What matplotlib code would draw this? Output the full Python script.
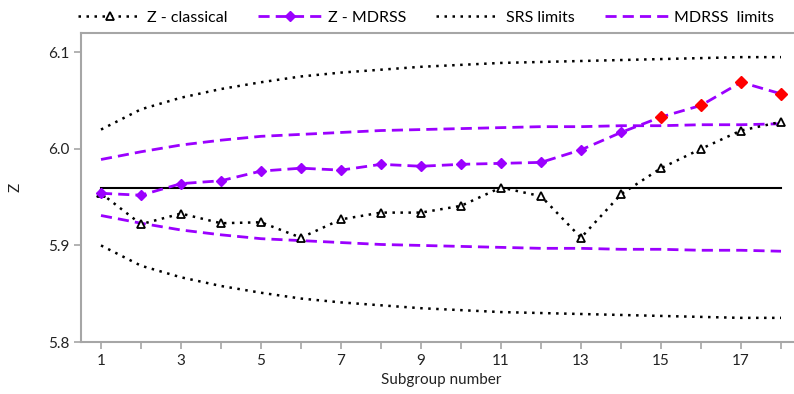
import matplotlib
matplotlib.use("Agg")
import matplotlib.pyplot as plt

# Daten
subgroup = list(range(1, 19))
z_classical = [5.954, 5.922, 5.933, 5.923, 5.924, 5.908, 5.927, 5.934, 5.934,
               5.941, 5.960, 5.951, 5.908, 5.953, 5.980, 6.000, 6.019, 6.028]
z_mdrss = [5.954, 5.952, 5.964, 5.967, 5.977, 5.980, 5.978, 5.984, 5.982,
           5.984, 5.985, 5.986, 5.999, 6.017, 6.033, 6.045, 6.069, 6.057]
srs_upper = [6.020, 6.041, 6.053, 6.062, 6.069, 6.075, 6.079, 6.082, 6.085,
             6.087, 6.089, 6.090, 6.091, 6.092, 6.093, 6.094, 6.095, 6.095]
srs_lower = [5.900, 5.879, 5.867, 5.858, 5.851, 5.845, 5.841, 5.838, 5.835,
             5.833, 5.831, 5.830, 5.829, 5.828, 5.827, 5.826, 5.825, 5.825]
mdrss_upper = [5.989, 5.997, 6.004, 6.009, 6.013, 6.015, 6.017, 6.019, 6.020,
               6.021, 6.022, 6.023, 6.023, 6.024, 6.024, 6.025, 6.025, 6.026]
mdrss_lower = [5.931, 5.923, 5.916, 5.911, 5.907, 5.905, 5.903, 5.901, 5.900,
               5.899, 5.898, 5.897, 5.897, 5.896, 5.896, 5.895, 5.895, 5.894]
center = 5.96
ausser_kontrolle = [15, 16, 17, 18]  # rote Punkte

lila = '#9B00FF'
grau = '#A6A6A6'

plt.rcParams['font.family'] = ['Lato', 'DejaVu Sans']

fig = plt.figure(figsize=(7.94, 3.94), dpi=100)
ax = fig.add_axes([81 / 794, 1 - 342 / 394, 720 / 794, 309 / 394])

# Grenzen
ax.plot(subgroup, srs_upper, color='black', linestyle=(0, (1, 2.2)), linewidth=1.8,
        label='SRS limits', zorder=2)
ax.plot(subgroup, srs_lower, color='black', linestyle=(0, (1, 2.2)), linewidth=1.8, zorder=2)
ax.plot(subgroup, mdrss_upper, color=lila, linestyle=(0, (4, 2.2)), linewidth=2,
        label='MDRSS  limits', zorder=2)
ax.plot(subgroup, mdrss_lower, color=lila, linestyle=(0, (4, 2.2)), linewidth=2, zorder=2)

# Mittellinie
ax.plot([subgroup[0], subgroup[-1]], [center, center], color='black', linewidth=1.5, zorder=3)

# Statistiken
ax.plot(subgroup, z_classical, color='black', linestyle=(0, (1, 2.2)), linewidth=1.8,
        marker='^', markersize=6, markerfacecolor='white', markeredgecolor='black',
        markeredgewidth=1.3, label='Z - classical', zorder=4)
ax.plot(subgroup, z_mdrss, color=lila, linestyle=(0, (4, 2.2)), linewidth=2,
        marker='D', markersize=5.5, markerfacecolor=lila, markeredgecolor=lila,
        label='Z - MDRSS', zorder=5)
rot_x = [s for s in subgroup if s in ausser_kontrolle]
rot_y = [z_mdrss[subgroup.index(s)] for s in rot_x]
ax.plot(rot_x, rot_y, linestyle='none', marker='D', markersize=6.5,
        color='#FF0000', zorder=6)

ax.set_xlim(0.5, 18.5)
ax.set_ylim(5.8, 6.12)
ax.set_yticks([5.8, 5.9, 6.0, 6.1])
ax.set_yticklabels(['5.8', '5.9', '6.0', '6.1'])
ax.set_xticks(subgroup)
ax.set_xticklabels([str(s) if s % 2 == 1 else '' for s in subgroup])
ax.tick_params(axis='both', colors=grau, labelcolor='#222222', labelsize=11,
               length=5, width=1.2)

for s in ['right']:
    ax.spines[s].set_visible(False)
for s in ['left', 'bottom', 'top']:
    ax.spines[s].set_color(grau)
    ax.spines[s].set_linewidth(1.5)

ax.set_xlabel('Subgroup number', fontsize=11, color='#222222', labelpad=4)
ax.set_ylabel('Z', fontsize=11, color='#222222', labelpad=18)

handles, labels = ax.get_legend_handles_labels()
order = [labels.index(l) for l in ['Z - classical', 'Z - MDRSS', 'SRS limits', 'MDRSS  limits']]
fig.legend([handles[i] for i in order], [labels[i] for i in order],
           loc='center left', bbox_to_anchor=(78 / 794, 1 - 18 / 394), ncol=4,
           frameon=False, fontsize=11.5, handlelength=4.0, columnspacing=1.9,
           handletextpad=0.35, borderaxespad=0, borderpad=0)

plt.savefig('out.png', dpi=100)
plt.close()
